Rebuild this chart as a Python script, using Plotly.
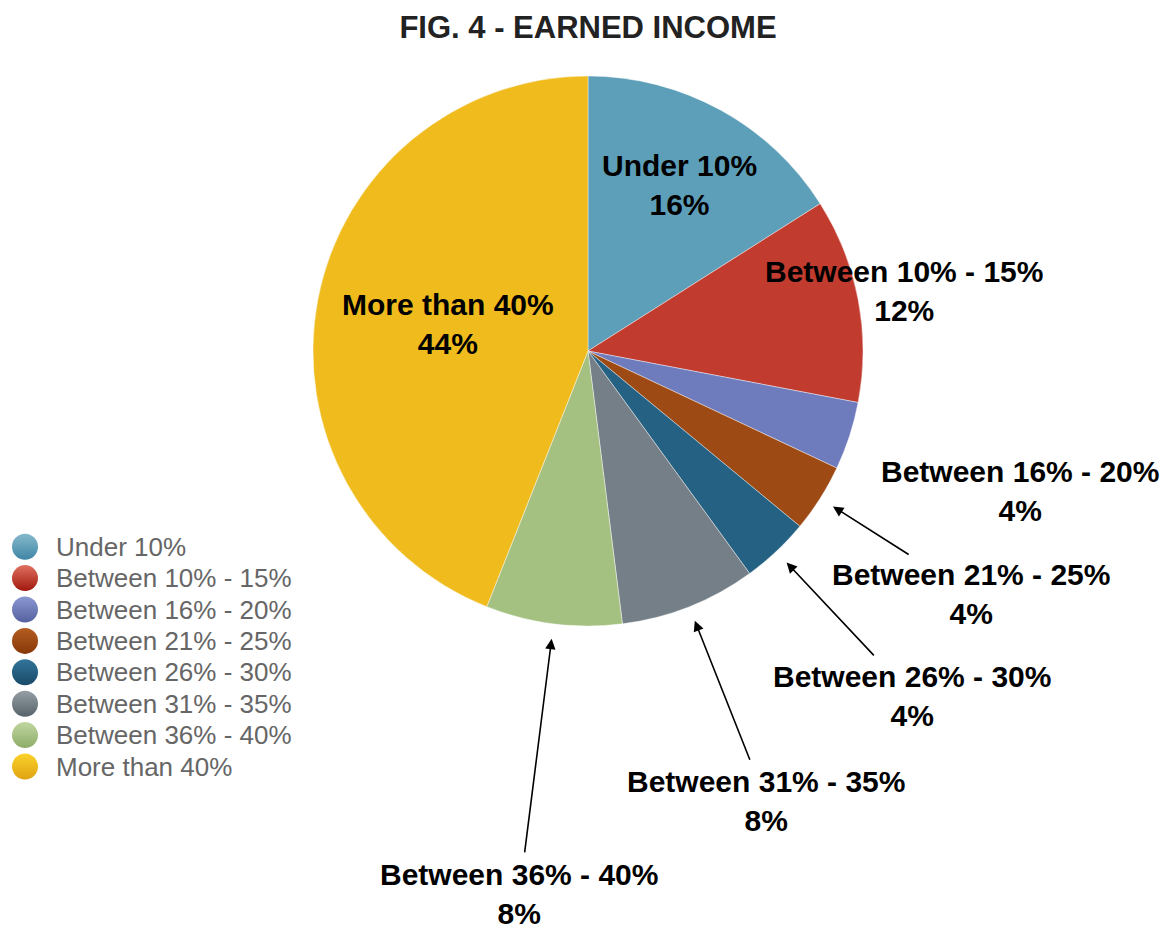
import math
import plotly.graph_objects as go

# data
labels = ["Under 10%", "Between 10% - 15%", "Between 16% - 20%", "Between 21% - 25%",
          "Between 26% - 30%", "Between 31% - 35%", "Between 36% - 40%", "More than 40%"]
shares = [16, 12, 4, 4, 4, 8, 8, 44]

# slice colours (mid tone) plus light/dark for the legend spheres
colors = ["#5d9fb9", "#c13b2f", "#6e7cbd", "#9e4a15", "#256182", "#747f87", "#a5c182", "#efbb1d"]
light = ["#86b9cb", "#e07060", "#8a98d2", "#b55d22", "#32759a", "#969fa5", "#c0d6a0", "#fbd22a"]
dark = ["#3f86a6", "#a0170d", "#55619f", "#873808", "#1a4a68", "#56626a", "#8eac68", "#dfa313"]

# page body has an 8px margin, so the figure is a bit smaller and shifted
OFF = 8
W, H = 1176 - 2 * OFF, 942 - 2 * OFF
CX, CY, R = 588 - OFF, 351 - OFF, 275      # pie centre / radius in px
FONT = "Liberation Sans, Arial, Helvetica, sans-serif"

# label distance from centre (in radii) and which labels get an arrow
label_r = [0.69, 1.17, 1.65, 1.65, 1.72, 1.76, 1.99, 0.52]
has_arrow = [False, False, False, True, True, True, True, False]
tip_r = 1.055

def paper(px, py):
    return px / W, 1 - py / H

fig = go.Figure()

fig.add_trace(go.Pie(
    labels=labels,
    values=shares,
    sort=False,
    direction="clockwise",
    rotation=0,
    textinfo="none",
    hoverinfo="label+percent",
    marker=dict(colors=colors, line=dict(color="rgba(255,255,255,0.7)", width=0.6)),
    domain=dict(x=[(CX - R) / W, (CX + R) / W], y=[1 - (CY + R) / H, 1 - (CY - R) / H]),
    showlegend=False
))

# legend drawn as spheres + text on a hidden axis
n = len(labels)
leg_w = 0.35 * W
fig.add_trace(go.Scatter(
    x=[(25 - OFF) / leg_w] * n,
    y=list(range(n)),
    mode="markers",
    marker=dict(size=26, color=light, gradient=dict(type="vertical", color=dark), line=dict(width=0)),
    hoverinfo="skip",
    showlegend=False
))

annotations = []
for i, lab in enumerate(labels):
    annotations.append(dict(
        x=(54 - OFF) / leg_w, y=i, xref="x", yref="y", text=lab, showarrow=False,
        xanchor="left", yanchor="middle",
        font=dict(family=FONT, size=26, color="#666666")
    ))

# slice labels, placed along each slice's mid angle
total = sum(shares)
cum = 0
for i, (lab, s) in enumerate(zip(labels, shares)):
    theta = (cum + s / 2) / total * 2 * math.pi
    cum += s
    sx, sy = math.sin(theta), -math.cos(theta)
    lx, ly = CX + label_r[i] * R * sx, CY + label_r[i] * R * sy
    txt = lab + "<br>" + str(s) + "%"
    font = dict(family=FONT, size=30, color="black", weight="bold")
    if has_arrow[i]:
        tx, ty = CX + tip_r * R * sx, CY + tip_r * R * sy
        px_, py_ = paper(tx, ty)
        annotations.append(dict(
            x=px_, y=py_, xref="paper", yref="paper", text=txt, font=font,
            showarrow=True, ax=lx - tx, ay=ly - ty, axref="pixel", ayref="pixel",
            arrowhead=2, arrowsize=1.3, arrowwidth=1.6, arrowcolor="black",
            standoff=0, startstandoff=4
        ))
    else:
        px_, py_ = paper(lx, ly)
        annotations.append(dict(
            x=px_, y=py_, xref="paper", yref="paper", text=txt, font=font,
            showarrow=False, xanchor="center", yanchor="middle"
        ))

leg_top, leg_step = 531 - OFF, 31.4
fig.update_layout(
    width=W,
    height=H,
    margin=dict(l=0, r=0, t=0, b=0),
    paper_bgcolor="white",
    plot_bgcolor="white",
    title=dict(text="FIG. 4 - EARNED INCOME", x=0.5, xanchor="center",
               y=1 - (27 - OFF) / H, yanchor="middle", yref="container",
               font=dict(family=FONT, size=31, color="#222222", weight="bold")),
    xaxis=dict(domain=[0, 0.35], range=[0, 1], visible=False, fixedrange=True),
    yaxis=dict(domain=[1 - (leg_top + n * leg_step) / H, 1 - leg_top / H],
               range=[n - 0.5, -0.5], visible=False, fixedrange=True),
    annotations=annotations
)

fig.write_html("out.html")
